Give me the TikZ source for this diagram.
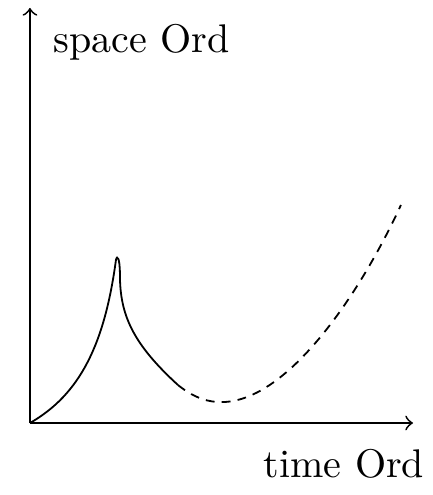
\documentclass[tikz,border=0pt]{standalone}
\usetikzlibrary{positioning}
\begin{document}
\begin{tikzpicture}[thick, line width=0.45pt]
\useasboundingbox (-0.263,-0.632) rectangle (3.538,3.714);
% Axes
\coordinate (origin) at (0,0);
\coordinate (ytop) at (0,3.644);
\coordinate (xend) at (3.363,0);
\draw [->] (origin) -- (ytop);
\draw [->] (origin) -- (xend);
\node (space) [anchor=base west, inner sep=0pt] at (0.202,3.257) {space Ord};
\node (time) [anchor=base west, inner sep=0pt] at (2.046,-0.474) {time Ord};

% Curve
\coordinate (peak) at (0.755,1.431);
\coordinate (drop) at (0.790,1.299);
\coordinate (split) at (1.299,0.334);
\coordinate (low) at (1.695,0.184);
\coordinate (rise) at (3.257,1.914);
\draw (origin) .. controls (0.441,0.252) and (0.655,0.693) .. (peak)
  .. controls (0.765,1.48) and (0.79,1.45) .. (drop)
  .. controls (0.79,0.945) and (0.907,0.693) .. (split);
\draw [dash pattern=on 2.2pt off 1.8pt] (split) .. controls (1.449,0.214) and (1.575,0.18) .. (low)
  .. controls (2.268,0.2) and (2.898,1.134) .. (rise);
\end{tikzpicture}
\end{document}
